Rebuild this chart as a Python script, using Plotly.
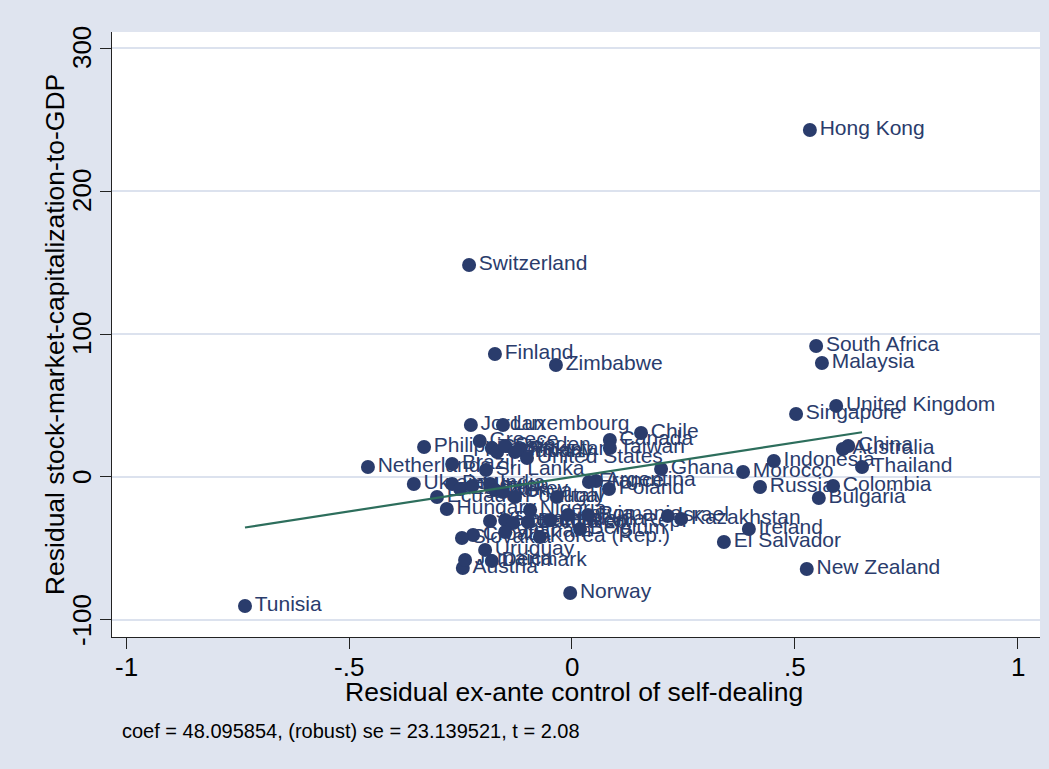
import plotly.graph_objects as go

countries = [
    "Hong Kong", "Switzerland", "Finland", "Zimbabwe", "South Africa", "Malaysia",
    "United Kingdom", "Singapore", "Chile", "Canada", "Taiwan", "China", "Australia",
    "Thailand", "Indonesia", "Morocco", "Russia", "Colombia", "Bulgaria", "Ghana",
    "Argentina", "France", "Poland", "Italy", "Portugal", "Romania", "Israel",
    "Kazakhstan", "Ireland", "El Salvador", "New Zealand", "Norway", "Tunisia",
    "Netherlands", "Philippines", "Jordan", "Luxembourg", "Greece", "Brazil",
    "Sri Lanka", "Ukraine", "Ecuador", "Hungary", "Austria", "Denmark", "Uruguay",
    "Jamaica", "Belgium", "Korea (Rep.)", "Pakistan", "United States", "Spain",
    "Germany", "Sweden", "Japan", "Peru", "Egypt", "Mexico", "India", "Turkey",
    "Kenya", "Venezuela", "Panama", "Nigeria", "Czech Rep.", "Dominican Rep.",
    "Lithuania", "Latvia", "Croatia", "Slovakia", "Vietnam",
]
resid_selfdealing = [
    0.534, -0.231, -0.173, -0.036, 0.548, 0.561,
    0.593, 0.503, 0.155, 0.085, 0.085, 0.620, 0.608,
    0.651, 0.453, 0.384, 0.422, 0.586, 0.554, 0.200,
    0.054, 0.038, 0.083, -0.034, -0.128, 0.036, 0.215,
    0.245, 0.397, 0.341, 0.527, -0.004, -0.734,
    -0.458, -0.332, -0.227, -0.155, -0.207, -0.269,
    -0.193, -0.355, -0.303, -0.281, -0.245, -0.180, -0.195,
    -0.240, 0.018, -0.072, -0.117, -0.101, -0.180,
    -0.168, -0.150, -0.128, -0.269, -0.251, -0.224, -0.184, -0.173,
    -0.155, -0.184, -0.150, -0.094, -0.132, -0.099,
    -0.049, -0.009, -0.222, -0.247, -0.150,
]
resid_mktcap = [
    242.7, 148.3, 86.0, 78.3, 91.6, 79.7,
    49.7, 44.1, 30.8, 25.9, 20.3, 21.7, 19.6,
    7.0, 11.2, 3.5, -7.0, -6.3, -14.7, 5.6,
    -2.8, -3.5, -8.4, -14.0, -14.0, -26.6, -27.3,
    -29.4, -36.4, -45.5, -64.3, -81.1, -90.2,
    7.0, 21.0, 36.4, 36.4, 25.2, 9.1,
    4.9, -4.9, -14.0, -22.4, -63.6, -58.7, -51.0,
    -58.0, -36.4, -42.0, 18.9, 13.3, 20.3,
    17.5, 21.7, 17.5, -4.9, -8.4, -6.3, -4.9, -9.1,
    -10.5, -30.8, -30.1, -23.1, -32.2, -31.5,
    -30.1, -26.6, -40.6, -42.7, -38.5,
]
coef = 48.095854
se_robust = 23.139521
t_stat = 2.08

x_ticks = [-1, -0.5, 0, 0.5, 1]
x_tick_labels = ["-1", "-.5", "0", ".5", "1"]
y_ticks = [-100, 0, 100, 200, 300]
y_tick_labels = ["-100", "0", "100", "200", "300"]

FONT = "Liberation Sans, Arial, sans-serif"
NAVY = "#2A3C6C"
GREEN = "#2D6E5C"
BG = "#DFE4EF"

xmin = min(resid_selfdealing)
xmax = max(resid_selfdealing)
fit_x = [xmin, xmax]
fit_y = [coef * v for v in fit_x]

fig = go.Figure()
fig.add_trace(go.Scatter(
    x=resid_selfdealing, y=resid_mktcap, mode="markers+text",
    text=countries, textposition="middle right",
    textfont=dict(family=FONT, size=21, color=NAVY),
    marker=dict(size=14, color=NAVY),
    showlegend=False, cliponaxis=False,
))
fig.add_trace(go.Scatter(
    x=fit_x, y=fit_y, mode="lines",
    line=dict(color=GREEN, width=2.2), showlegend=False,
))

annotations = [
    dict(text="Residual ex-ante control of self-dealing", xref="paper", yref="paper",
         x=0.498, y=-0.091, xanchor="center", yanchor="middle", showarrow=False,
         font=dict(family=FONT, size=26.5, color="black")),
    dict(text="Residual stock-market-capitalization-to-GDP", xref="paper", yref="paper",
         x=-0.0614, y=0.499, xanchor="center", yanchor="middle", showarrow=False,
         textangle=-90, font=dict(family=FONT, size=26.5, color="black")),
    dict(text=f"coef = {coef:.6f}, (robust) se = {se_robust:.6f}, t = {t_stat:.2f}",
         xref="paper", yref="paper", x=0.0086, y=-0.155, xanchor="left", yanchor="middle",
         showarrow=False, font=dict(family=FONT, size=20, color="black")),
]
# y tick labels, rotated, placed left of the tick marks
for v, lab in zip(y_ticks, y_tick_labels):
    annotations.append(dict(
        text=lab, xref="paper", yref="y", x=-0.0323, y=v,
        xanchor="center", yanchor="middle", showarrow=False, textangle=-90,
        font=dict(family=FONT, size=26, color="black"),
    ))
# x tick labels below the tick marks
for v, lab in zip(x_ticks, x_tick_labels):
    annotations.append(dict(
        text=lab, xref="x", yref="paper", x=v, y=-0.0496,
        xanchor="center", yanchor="middle", showarrow=False,
        font=dict(family=FONT, size=26, color="black"),
    ))

fig.update_layout(
    width=1049, height=769,
    paper_bgcolor=BG, plot_bgcolor="white",
    margin=dict(l=112, r=9, t=32, b=132),
    font=dict(family=FONT, color="black"),
    xaxis=dict(
        range=[-1.0325, 1.0505], tickvals=x_ticks, showticklabels=False,
        ticks="outside", ticklen=11, tickwidth=1.2, tickcolor="#222",
        showline=True, linecolor="#222", linewidth=1,
        showgrid=False, zeroline=False,
    ),
    yaxis=dict(
        range=[-111.9, 311.2], tickvals=y_ticks, showticklabels=False,
        ticks="outside", ticklen=11, tickwidth=1.2, tickcolor="#222",
        showline=True, linecolor="#222", linewidth=1,
        showgrid=True, gridcolor="#DCE2EE", gridwidth=1.5, zeroline=False,
    ),
    annotations=annotations,
)

fig.write_html("out.html", config={"displayModeBar": False},
               post_script="document.body.style.margin='0';document.body.style.overflow='hidden';")
